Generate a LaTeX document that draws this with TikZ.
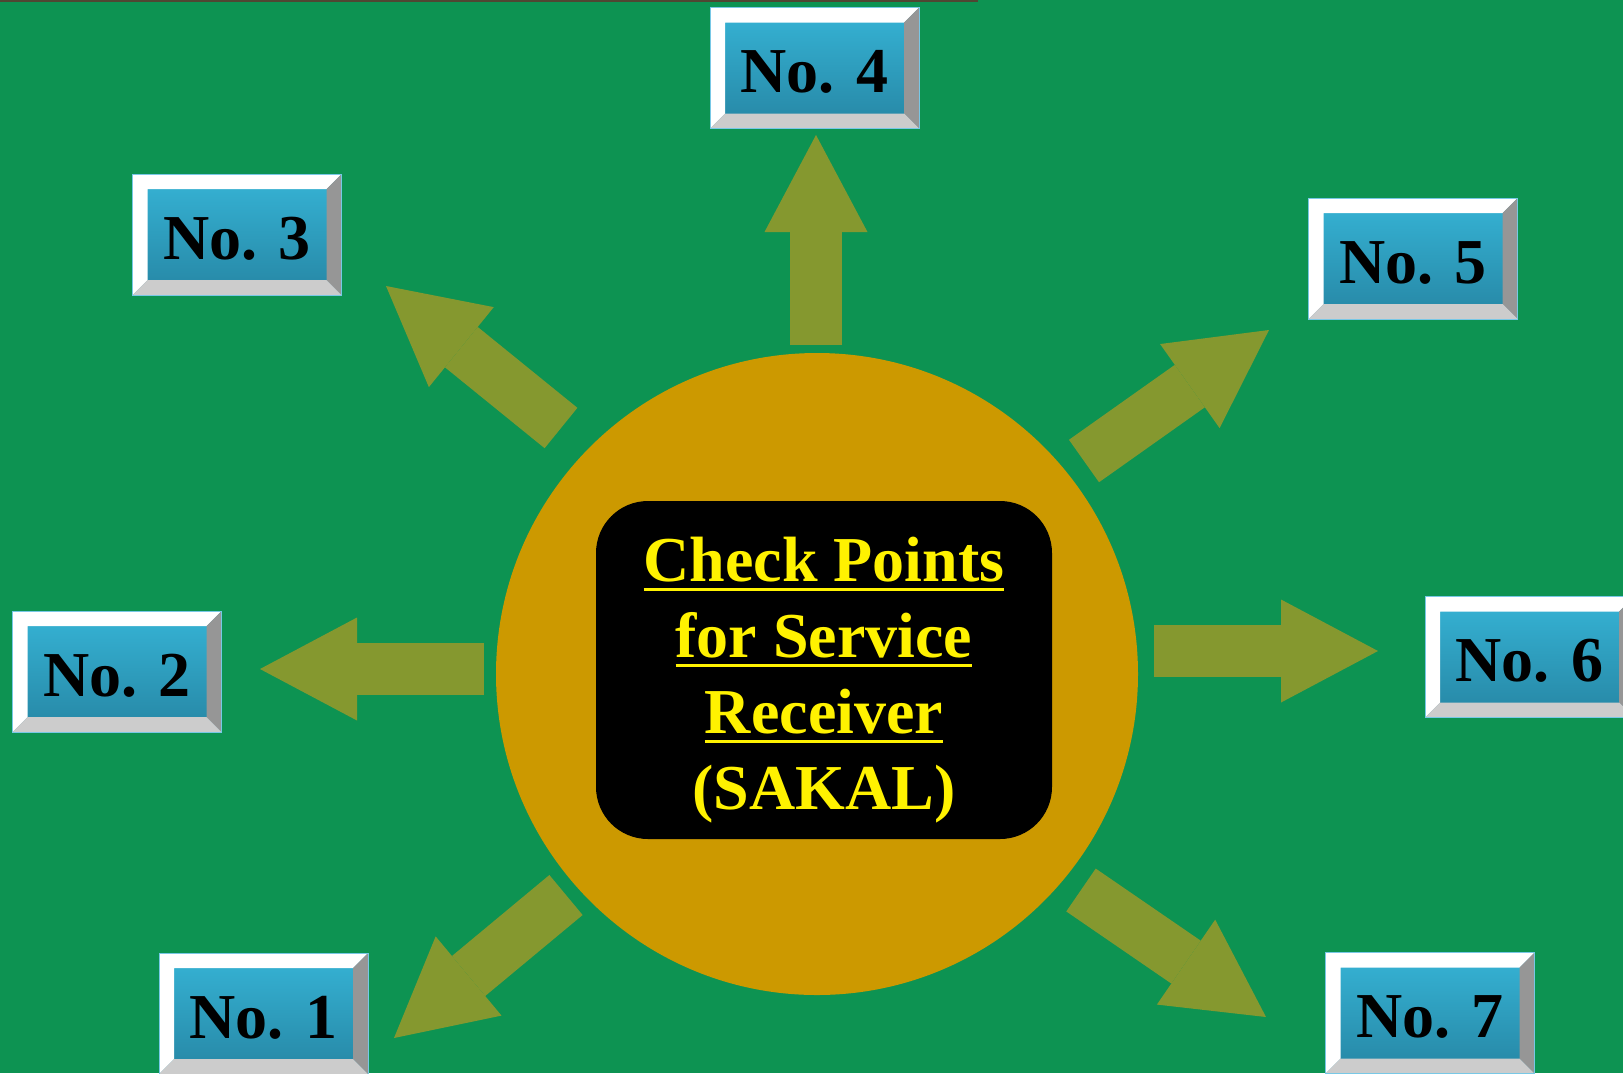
\documentclass[tikz,border=0pt]{standalone}
\usepackage{fontspec}
\setmainfont{Liberation Serif}
\usepackage{xcolor}
\usepackage{tikz}
\usetikzlibrary{arrows.meta}

\definecolor{felt}{RGB}{13,147,82}
\definecolor{gold}{RGB}{204,153,0}
\definecolor{olivearrow}{RGB}{133,152,47}
\definecolor{facetop}{RGB}{54,180,214}
\definecolor{facebot}{RGB}{38,134,164}
\definecolor{bevelright}{RGB}{150,150,150}
\definecolor{bevelbot}{RGB}{204,204,204}
\definecolor{rimblue}{RGB}{120,200,230}
\definecolor{topline}{RGB}{80,70,50}

\newcommand{\ulyellow}[1]{{\setbox0\hbox{#1}\rlap{\rule[-4.9pt]{\wd0}{1.5pt}}\box0}}

\begin{document}
\begin{tikzpicture}[
    x=0.5pt, y=-0.5pt,
    numbox/.style={rectangle, minimum width=104.5pt, minimum height=60.5pt, inner sep=0pt,
        text height=24.5pt, text depth=0pt,
        top color=facetop, bottom color=facebot, draw=rimblue, line width=0.5pt,
        font=\fontsize{32}{38}\selectfont\bfseries,
        path picture={
            \fill[white] (path picture bounding box.north east) -- (path picture bounding box.north west)
                -- (path picture bounding box.south west) -- ([shift={(7.5pt,7.5pt)}]path picture bounding box.south west)
                -- ([shift={(7.5pt,-7.5pt)}]path picture bounding box.north west) -- ([shift={(-7.5pt,-7.5pt)}]path picture bounding box.north east) -- cycle;
            \fill[bevelright] (path picture bounding box.north east) -- (path picture bounding box.south east)
                -- ([shift={(-7.5pt,7.5pt)}]path picture bounding box.south east) -- ([shift={(-7.5pt,-7.5pt)}]path picture bounding box.north east) -- cycle;
            \fill[bevelbot] (path picture bounding box.south west) -- (path picture bounding box.south east)
                -- ([shift={(-7.5pt,7.5pt)}]path picture bounding box.south east) -- ([shift={(7.5pt,7.5pt)}]path picture bounding box.south west) -- cycle;
        }},
    hub/.style={circle, fill=gold, minimum size=321pt, inner sep=0pt},
    panel/.style={rectangle, rounded corners=26pt, fill=black, minimum width=228pt, minimum height=169pt},
    paneltext/.style={text=yellow, font=\fontsize{32}{38}\selectfont\bfseries, align=center},
    bigarrow/.style={draw=olivearrow, line width=26pt, -{Triangle[length=48.5pt, width=51.5pt, line width=0pt]}}
]
\useasboundingbox (0,0) rectangle (1623,1073);
\clip (0,0) rectangle (1623,1073);
\fill[felt] (0,0) rectangle (1623,1073);
\draw[topline, line width=1pt] (0,1) -- (978,1);

\node (hub) [hub] at (817,674) {};
\node (panel) [panel] at (824,670) {};
\node (ptext) [paneltext] at (824,680) {\ulyellow{Check Points}\\\ulyellow{for Service}\\\ulyellow{Receiver}\\(SAKAL)};

\node (box1) [numbox] at (263.5,1013.5) {No. 1};
\node (box2) [numbox] at (117,671.5) {No. 2};
\node (box3) [numbox] at (237,234.5) {No. 3};
\node (box4) [numbox] at (814.5,68) {No. 4};
\node (box5) [numbox] at (1413,258.5) {No. 5};
\node (box6) [numbox] at (1529.5,657) {No. 6};
\node (box7) [numbox] at (1430,1013) {No. 7};

\coordinate (t1) at (566,895);  \coordinate (h1) at (394,1038);
\coordinate (t2) at (484,669);  \coordinate (h2) at (260,669);
\coordinate (t3) at (561,428);  \coordinate (h3) at (386,286);
\coordinate (t4) at (816,345);  \coordinate (h4) at (816,135);
\coordinate (t5) at (1084,461); \coordinate (h5) at (1269,330);
\coordinate (t6) at (1154,651); \coordinate (h6) at (1378,651);
\coordinate (t7) at (1081,890); \coordinate (h7) at (1266,1017);

\foreach \i in {1,...,7}
    \draw[bigarrow] (t\i) -- (h\i);
\end{tikzpicture}
\end{document}
